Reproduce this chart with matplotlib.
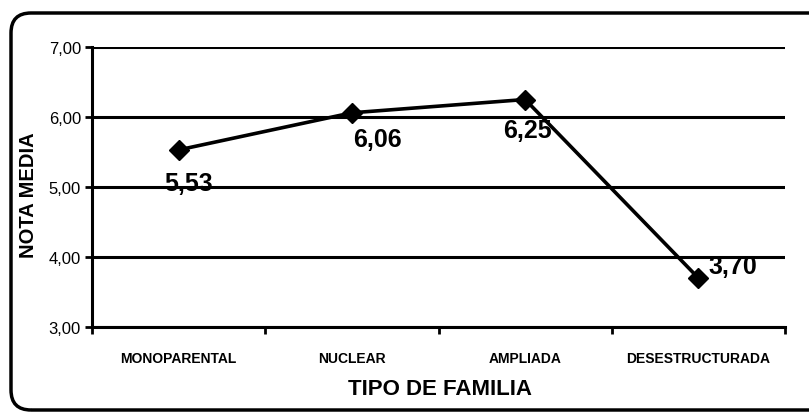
import matplotlib.pyplot as plt
from matplotlib.patches import FancyBboxPatch

categorias = ['MONOPARENTAL', 'NUCLEAR', 'AMPLIADA', 'DESESTRUCTURADA']
notas = [5.53, 6.06, 6.25, 3.70]
etiquetas = ['5,53', '6,06', '6,25', '3,70']
# label offsets in pixels from each point
offsets = [(10, -33), (26, -26), (2, -30), (34, 12)]
y_ticks = [3, 4, 5, 6, 7]

narrow = ['Liberation Sans Narrow', 'Liberation Sans', 'DejaVu Sans']

fig = plt.figure(figsize=(8.09, 4.14), dpi=100)
ax = fig.add_axes([92 / 809, 1 - 328 / 414, 693 / 809, 280 / 414])

x = [i + 0.5 for i in range(len(categorias))]
ax.plot(x, notas, color='black', lw=2.6, marker='D', ms=10, zorder=3)

for xi, v, t, (dx, dy) in zip(x, notas, etiquetas, offsets):
    ax.annotate(t, (xi, v), xytext=(dx, dy), textcoords='offset pixels',
                ha='center', va='center', fontsize=18, fontweight='bold',
                family=narrow, zorder=4)

ax.set_xlim(0, 4)
ax.set_ylim(3, 7)
ax.set_yticks(y_ticks)
ax.yaxis.set_major_formatter(plt.FuncFormatter(lambda v, p: ('%.2f' % v).replace('.', ',')))
for lab in ax.get_yticklabels():
    lab.set_family(narrow)
    lab.set_fontsize(12)
ax.set_xticks([0, 1, 2, 3, 4])
ax.set_xticklabels([])
ax.set_xticks(x, minor=True)
ax.set_xticklabels(categorias, minor=True, fontweight='bold', family=narrow, fontsize=10)
ax.tick_params(axis='x', which='minor', length=0, pad=17)
ax.tick_params(axis='x', which='major', length=5, width=2, direction='out')
ax.tick_params(axis='y', length=5, width=2, direction='out', pad=3)

ax.grid(axis='y', color='black', lw=2.2)
ax.set_axisbelow(True)
for s in ['top', 'right']:
    ax.spines[s].set_visible(False)
for s in ['left', 'bottom']:
    ax.spines[s].set_linewidth(2.2)

fig.text(29 / 809, 1 - 195 / 414, 'NOTA MEDIA', rotation=90, ha='center', va='center',
         fontweight='bold', fontsize=14.5, family=['Liberation Sans', 'DejaVu Sans'])
fig.text(440 / 809, 1 - 390 / 414, 'TIPO DE FAMILIA', ha='center', va='center',
         fontweight='bold', fontsize=16, family=narrow)

# rounded frame, right side runs off the image
border = FancyBboxPatch((0.11, 0.03), 8.3, 3.97,
                        boxstyle='round,pad=0,rounding_size=0.2',
                        transform=fig.dpi_scale_trans, fill=False, lw=2.5, ec='black')
fig.patches.append(border)

fig.savefig('out.png', dpi=100)
